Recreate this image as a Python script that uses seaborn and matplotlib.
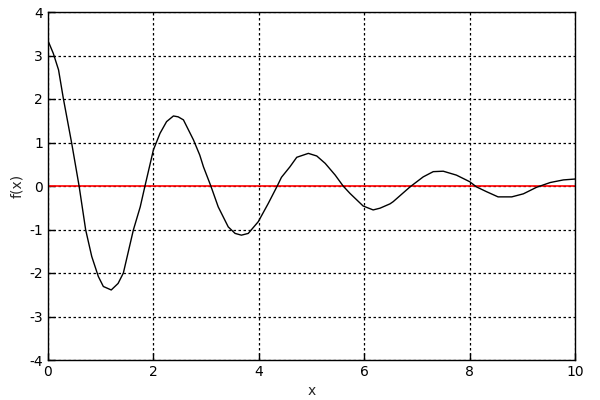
import matplotlib
matplotlib.use("Agg")
import matplotlib.pyplot as plt
import seaborn as sns
import pandas as pd

x_vals = [0.0, 0.1, 0.2, 0.29, 0.45, 0.59, 0.715, 0.83, 0.955, 1.05, 1.2, 1.33, 1.43,
          1.62, 1.75, 1.84, 2.0, 2.125, 2.25, 2.38, 2.47, 2.57, 2.76, 2.88, 2.95, 3.09,
          3.23, 3.42, 3.55, 3.67, 3.8, 3.99, 4.18, 4.35, 4.43, 4.59, 4.72, 4.94,
          5.1, 5.26, 5.45, 5.6, 5.73, 5.98, 6.17, 6.3, 6.49, 6.55, 6.87, 7.12,
          7.31, 7.5, 7.75, 8.0, 8.13, 8.32, 8.54, 8.8, 9.02, 9.27, 9.53, 9.78, 10.0]
f_vals = [3.34, 3.05, 2.67, 2.02, 0.98, 0.0, -1.01, -1.62, -2.08, -2.31, -2.39, -2.24, -2.0,
          -1.01, -0.48, 0.0, 0.83, 1.21, 1.48, 1.61, 1.59, 1.52, 1.06, 0.71, 0.44, 0.0,
          -0.48, -0.94, -1.09, -1.13, -1.09, -0.82, -0.40, 0.0, 0.2, 0.44, 0.66, 0.75,
          0.69, 0.52, 0.25, 0.0, -0.17, -0.46, -0.55, -0.51, -0.41, -0.36, -0.02, 0.21,
          0.33, 0.34, 0.25, 0.1, -0.02, -0.13, -0.25, -0.25, -0.18, -0.03, 0.08, 0.14, 0.16]
zero_x = [0.0, 10.0]
zero_y = [0.0, 0.0]
x_ticks = [0, 2, 4, 6, 8, 10]
y_ticks = [-4, -3, -2, -1, 0, 1, 2, 3, 4]

sns.set_style("white")
plt.rcParams['font.family'] = ['DejaVu Sans']
plt.rcParams['axes.unicode_minus'] = False

fig = plt.figure(figsize=(6, 4), dpi=100)
ax = fig.add_axes([48/600, 40/400, 527/600, 348/400])

df = pd.DataFrame({"x": x_vals, "f": f_vals})
dz = pd.DataFrame({"x": zero_x, "f": zero_y})

ax.set_xlim(0, 10)
ax.set_ylim(-4, 4)
ax.set_xticks(x_ticks)
ax.set_yticks(y_ticks)
ax.grid(True, color="black", linestyle=(0, (2, 2)), linewidth=0.9)
ax.set_axisbelow(True)

sns.lineplot(data=dz, x="x", y="f", color="red", linewidth=1.2, ax=ax, sort=False)
sns.lineplot(data=df, x="x", y="f", color="black", linewidth=1.0, ax=ax, sort=False)

ax.set_xlabel("x", fontsize=10)
ax.set_ylabel("f(x)", fontsize=10)
ax.tick_params(direction="in", length=5, width=1, labelsize=10, colors="black",
               left=True, bottom=True)
for s in ax.spines.values():
    s.set_color("black")
    s.set_linewidth(1.0)
    s.set_visible(True)

fig.savefig("out.png", dpi=100)
